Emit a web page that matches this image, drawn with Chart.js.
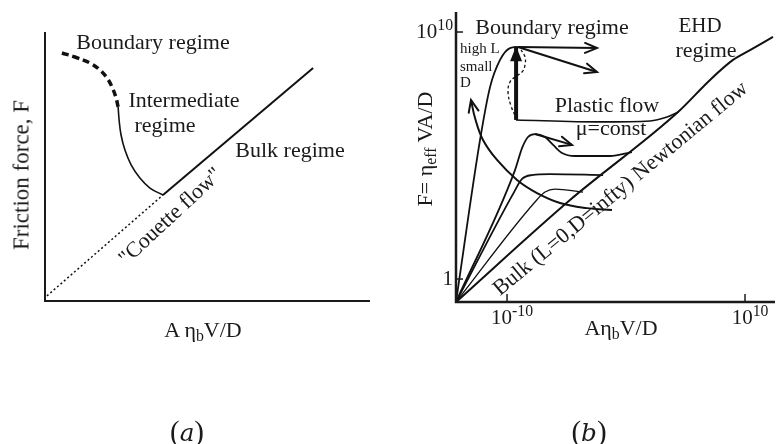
<!DOCTYPE html>
<html lang="en">
<head>
<meta charset="UTF-8" />
<title>Friction regimes</title>
<script src="https://cdn.jsdelivr.net/npm/chart.js"></script>
<style>
  html, body { margin: 0; padding: 0; background: #fff; }
  .wrap { position: relative; width: 776px; height: 444px; overflow: hidden;
          font-family: "Liberation Serif", "Times New Roman", serif; color: #1a1a1a; }
  canvas { position: absolute; top: 0; }
  #chartA { left: 0; }
  #chartB { left: 388px; }
  .lbl { position: absolute; white-space: nowrap; line-height: 1; transform: translate(-50%, -50%); font-size: 22px; }
  .lbl sub { font-size: 0.72em; vertical-align: -0.25em; line-height: 0; }
  .lbl sup { font-size: 0.75em; vertical-align: 0.45em; line-height: 0; }
  .small { font-size: 15px; transform: translate(0, -50%); }
  .tick { font-size: 21px; }
  .cap { font-size: 29px; }
  .cap i { font-family: "DejaVu Serif", serif; font-size: 0.85em; }
</style>
</head>
<body>
<div class="wrap" id="wrap">
  <canvas id="chartA" width="388" height="444"></canvas>
  <canvas id="chartB" width="388" height="444"></canvas>

  <div class="lbl" style="left:153px; top:42px;">Boundary regime</div>
  <div class="lbl" style="left:184px; top:100px;">Intermediate</div>
  <div class="lbl" style="left:165px; top:125px;">regime</div>
  <div class="lbl" style="left:290px; top:150px;">Bulk regime</div>
  <div class="lbl" style="left:170px; top:216px; transform:translate(-50%,-50%) rotate(-43deg);">"Couette flow"</div>
  <div class="lbl" style="left:21px; top:175px; font-size:23px; transform:translate(-50%,-50%) rotate(-90deg);">Friction force, F</div>
  <div class="lbl" style="left:203px; top:330px;">A &eta;<sub>b</sub>V/D</div>
  <div class="lbl cap" style="left:187px; top:431px;">(<i>a</i>)</div>

  <div class="lbl" style="left:552px; top:27px;">Boundary regime</div>
  <div class="lbl" style="left:700px; top:25px; font-size:21px;">EHD</div>
  <div class="lbl" style="left:706px; top:50px;">regime</div>
  <div class="lbl small" style="left:460px; top:48px;">high L</div>
  <div class="lbl small" style="left:460px; top:66px;">small</div>
  <div class="lbl small" style="left:460px; top:82px;">D</div>
  <div class="lbl" style="left:607px; top:105px;">Plastic flow</div>
  <div class="lbl" style="left:611px; top:128px;">&mu;=const</div>
  <div class="lbl" style="left:620px; top:188px; transform:translate(-50%,-50%) rotate(-39.6deg);">Bulk (L=0,D=infty) Newtonian flow</div>
  <div class="lbl" style="left:425px; top:149px; transform:translate(-50%,-50%) rotate(-90deg);">F= &eta;<sub>eff</sub> VA/D</div>
  <div class="lbl" style="left:621px; top:328px;">A&eta;<sub>b</sub>V/D</div>
  <div class="lbl cap" style="left:589px; top:431px;">(<i>b</i>)</div>
</div>

<script>
// ---- panel (a): schematic units, both axes 0..10 ----
const aBoundary = [[0.52, 9.22], [0.92, 9.07], [1.38, 8.85], [1.69, 8.59], [1.91, 8.29], [2.06, 7.96], [2.18, 7.58], [2.25, 7.21]];
const aIntermediate = [[2.25, 7.21], [2.28, 6.73], [2.34, 6.17], [2.46, 5.61], [2.65, 5.06], [2.92, 4.57], [3.23, 4.20], [3.63, 3.94]];
const aBulk = [[3.63, 3.94], [8.25, 8.66]];
const aCouette = [[0.06, 0.19], [3.63, 3.94]];

// ---- panel (b): log10 units ----
const bXTicks = [-10, 10];
const bXTickLabels = ["10<sup>-10</sup>", "10<sup>10</sup>"];
const bYTicks = [0, 10];
const bYTickLabels = ["1", "10<sup>10</sup>"];

const bNewtonian = [[-14.29, -0.93], [-4.71, 3.20], [4.37, 6.76], [7.06, 8.06], [8.99, 8.87], [10.42, 9.27], [12.35, 9.80]];
const bHighL = [[-14.29, -0.93], [-12.27, 5.63], [-11.43, 7.77], [-10.59, 8.87], [-9.75, 9.35], [-9.12, 9.39]];
const bCurve2 = [[-14.29, -0.93], [-9.33, 4.41], [-8.74, 5.30], [-8.24, 5.75], [-7.65, 5.87], [-6.81, 5.75], [-6.13, 5.43], [-5.38, 5.10], [-4.29, 4.98], [-1.34, 4.98], [0.50, 5.14]];
const bCurve3 = [[-14.29, -0.93], [-9.41, 3.52], [-8.74, 4.05], [-7.90, 4.21], [-6.39, 4.25], [-1.93, 4.21]];
const bCurve4 = [[-14.29, -0.93], [-7.65, 3.12], [-6.81, 3.52], [-5.97, 3.64], [-3.61, 3.52]];
const bPlastic = [[-9.24, 6.44], [-2.18, 6.36], [2.02, 6.40], [3.45, 6.56], [4.40, 6.76]];
const bJump = [[-9.24, 6.44], [-9.24, 9.42]];
const bSlipFlat = [[-9.08, 9.39], [-2.44, 9.35]];
const bSlipDown = [[-9.08, 9.39], [-2.44, 8.38]];
const bLoop = [[-9.16, 6.44], [-9.66, 7.00], [-9.92, 7.57], [-9.75, 7.98], [-9.33, 8.18], [-8.74, 8.38], [-8.49, 8.66], [-8.49, 8.99], [-8.82, 9.27]];
const bSweep = [[-13.03, 7.25], [-12.69, 6.52], [-12.02, 5.63], [-10.84, 4.82], [-9.16, 4.01], [-7.48, 3.48], [-5.55, 3.08], [-3.28, 2.87], [-1.18, 2.79]];
const bDrop = [[-7.65, 5.87], [-4.54, 5.43]];

const pts = arr => arr.map(p => ({ x: p[0], y: p[1] }));

function line(data, width, extra) {
  return Object.assign({
    data: pts(data), showLine: true, borderColor: '#111', borderWidth: width,
    pointRadius: 0, tension: 0.4, fill: false, clip: 6
  }, extra || {});
}
const mono = { cubicInterpolationMode: 'monotone' };

const framePlugin = {
  id: 'frame',
  afterDatasetsDraw(chart, args, opts) {
    const { ctx, chartArea: a } = chart;
    ctx.save();
    ctx.strokeStyle = '#1a1a1a';
    ctx.lineWidth = opts.width;
    ctx.beginPath();
    ctx.moveTo(a.left, a.top);
    ctx.lineTo(a.left, a.bottom);
    ctx.lineTo(a.right, a.bottom);
    ctx.stroke();
    ctx.lineWidth = 1.5;
    (opts.xTicks || []).forEach(v => {
      const px = chart.scales.x.getPixelForValue(v);
      ctx.beginPath(); ctx.moveTo(px, a.bottom); ctx.lineTo(px, a.bottom - 8); ctx.stroke();
    });
    (opts.yTicks || []).forEach(v => {
      const py = chart.scales.y.getPixelForValue(v);
      ctx.beginPath(); ctx.moveTo(a.left, py); ctx.lineTo(a.left + 7, py); ctx.stroke();
    });
    ctx.restore();
  }
};

function drawHead(ctx, tip, dx, dy, filled, w) {
  const len = Math.hypot(dx, dy) || 1;
  const ux = dx / len, uy = dy / len;
  const L = filled ? 15 : 12, H = filled ? 6 : 5;
  const bx = tip.x - ux * L, by = tip.y - uy * L;
  ctx.beginPath();
  ctx.moveTo(bx - uy * H, by + ux * H);
  ctx.lineTo(tip.x, tip.y);
  ctx.lineTo(bx + uy * H, by - ux * H);
  if (filled) { ctx.closePath(); ctx.fill(); } else { ctx.lineWidth = w; ctx.stroke(); }
}

const arrowPlugin = {
  id: 'arrows',
  afterDatasetsDraw(chart) {
    const ctx = chart.ctx;
    ctx.save();
    ctx.strokeStyle = '#111';
    ctx.fillStyle = '#111';
    ctx.lineCap = 'round';
    chart.data.datasets.forEach((ds, i) => {
      if (!ds.arrow) return;
      const el = chart.getDatasetMeta(i).data;
      const n = el.length;
      const w = Math.min(ds.borderWidth, 2);
      if (ds.arrow === 'end' || ds.arrow === 'both') {
        const p = el[n - 1], q = el[n - 2];
        let fx = q.x, fy = q.y;
        if (p.cp1x !== undefined && Math.hypot(p.x - p.cp1x, p.y - p.cp1y) > 1) { fx = p.cp1x; fy = p.cp1y; }
        drawHead(ctx, p, p.x - fx, p.y - fy, ds.arrowFill, w);
      }
      if (ds.arrow === 'start' || ds.arrow === 'both') {
        const p = el[0], q = el[1];
        let fx = q.x, fy = q.y;
        if (p.cp2x !== undefined && Math.hypot(p.x - p.cp2x, p.y - p.cp2y) > 1) { fx = p.cp2x; fy = p.cp2y; }
        drawHead(ctx, p, p.x - fx, p.y - fy, ds.arrowFill, w);
      }
    });
    ctx.restore();
  }
};

const baseOpts = (padding, xr, yr, frame) => ({
  responsive: false,
  animation: false,
  layout: { padding: padding },
  scales: {
    x: { type: 'linear', min: xr[0], max: xr[1], display: false },
    y: { type: 'linear', min: yr[0], max: yr[1], display: false }
  },
  plugins: { legend: { display: false }, tooltip: { enabled: false }, frame: frame }
});

const chartA = new Chart(document.getElementById('chartA'), {
  type: 'scatter',
  data: {
    datasets: [
      line(aBoundary, 3.5, { borderDash: [7, 4] }),
      line(aIntermediate, 1.6),
      line(aBulk, 2, { tension: 0 }),
      line(aCouette, 1.5, { tension: 0, borderDash: [2, 2.5] })
    ]
  },
  options: baseOpts({ left: 45, right: 18, top: 32, bottom: 143 }, [0, 10], [0, 10], { width: 2 }),
  plugins: [framePlugin]
});

const chartB = new Chart(document.getElementById('chartB'), {
  type: 'scatter',
  data: {
    datasets: [
      line(bNewtonian, 2, mono),
      line(bHighL, 1.8, mono),
      line(bCurve2, 1.8, mono),
      line(bCurve3, 1.8, mono),
      line(bCurve4, 1.3, mono),
      line(bPlastic, 1.6, mono),
      line(bJump, 4, { tension: 0, arrow: 'end', arrowFill: true }),
      line(bSlipFlat, 2, { tension: 0, arrow: 'end' }),
      line(bSlipDown, 2, { tension: 0, arrow: 'end' }),
      line(bLoop, 1.3, { borderDash: [3, 2.5] }),
      line(bSweep, 2, { arrow: 'start' }),
      line(bDrop, 2, { tension: 0, arrow: 'end' })
    ]
  },
  options: baseOpts({ left: 68, right: 1, top: 12, bottom: 142 }, [-14.29, 12.52], [-0.93, 10.81],
    { width: 2.5, xTicks: bXTicks, yTicks: bYTicks }),
  plugins: [framePlugin, arrowPlugin]
});

// tick labels of panel (b), placed from the chart's own scales
(function placeTickLabels() {
  const wrap = document.getElementById('wrap');
  const off = 388;
  const xs = chartB.scales.x, ys = chartB.scales.y;
  bXTicks.forEach((v, i) => {
    const el = document.createElement('div');
    el.className = 'lbl tick';
    el.innerHTML = bXTickLabels[i];
    el.style.left = (off + xs.getPixelForValue(v) + 5) + 'px';
    el.style.top = (ys.bottom + 15) + 'px';
    wrap.appendChild(el);
  });
  bYTicks.forEach((v, i) => {
    const el = document.createElement('div');
    el.className = 'lbl tick';
    el.innerHTML = bYTickLabels[i];
    el.style.left = (off + xs.left - 3) + 'px';
    el.style.top = (ys.getPixelForValue(v) - 1) + 'px';
    el.style.transform = 'translate(-100%, -50%)';
    wrap.appendChild(el);
  });
})();
</script>
</body>
</html>
